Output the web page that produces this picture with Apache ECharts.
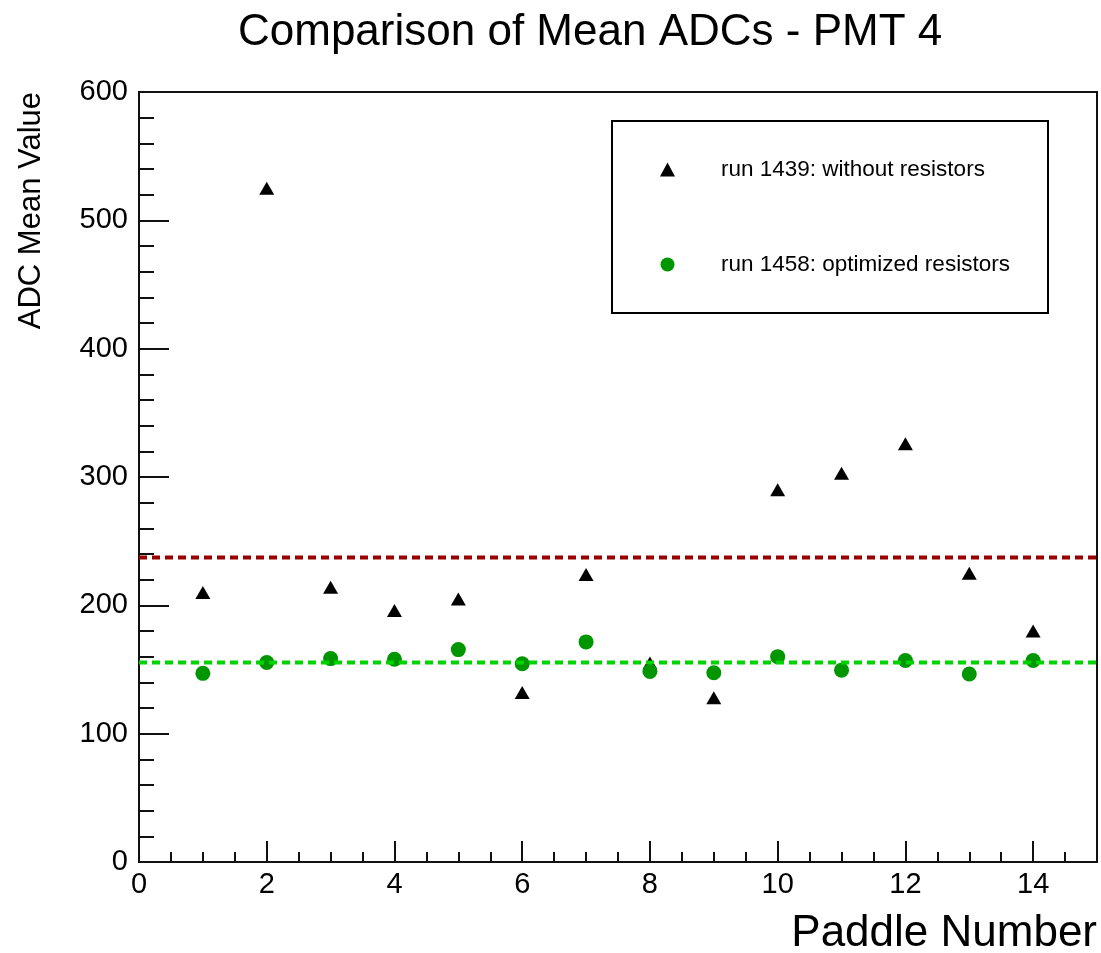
<!DOCTYPE html>
<html>
<head>
<meta charset="utf-8">
<script src="https://cdn.jsdelivr.net/npm/echarts@6/dist/echarts.min.js"></script>
<style>
  html, body { margin: 0; padding: 0; background: #fff; }
  #main { width: 1101px; height: 953px; }
</style>
</head>
<body>
<div id="main"></div>
<script>
// paddle numbers and mean ADC values
const paddles = [1, 2, 3, 4, 5, 6, 7, 8, 9, 10, 11, 12, 13, 14]
const withoutResistors = [210, 525, 214, 196, 205, 132, 224, 155, 128, 290, 303, 326, 225, 180]
const optimizedResistors = [147, 155.5, 158.5, 158, 165.5, 154.5, 171.5, 148.5, 147.5, 160, 149.5, 157, 146.5, 157]
// average levels (dotted lines)
const meanLevels = [237.3, 155.5]
const xRange = [0, 15]
const yRange = [0, 600]
const seriesNames = ['run 1439: without resistors', 'run 1458: optimized resistors']

const font = 'Liberation Sans, Arial, Helvetica, sans-serif'
const axisColor = '#111'

const chart = echarts.init(document.getElementById('main'))

const toPoints = (vals) => paddles.map((p, i) => [p, vals[i]])
const levelLine = (v) => xRange.map(x => [x, v])

chart.setOption({
    animation: false,
    backgroundColor: '#fff',
    textStyle: { fontFamily: font },
    title: {
        text: 'Comparison of Mean ADCs - PMT 4',
        left: 233,
        top: 6,
        textStyle: { fontSize: 44, fontWeight: 'normal', color: '#000', fontFamily: font }
    },
    grid: {
        left: 139,
        right: 4,
        top: 92,
        bottom: 91,
        outerBoundsMode: 'none',
        show: true,
        borderColor: axisColor,
        borderWidth: 2,
        backgroundColor: 'transparent'
    },
    legend: {
        orient: 'vertical',
        left: 660,
        top: 158,
        padding: 0,
        itemWidth: 15,
        itemHeight: 14,
        itemGap: 72,
        selectedMode: false,
        textStyle: { fontSize: 22.5, color: '#000', padding: [0, 0, 0, 41], fontFamily: font },
        data: [
            { name: seriesNames[0], icon: 'triangle' },
            { name: seriesNames[1], icon: 'circle' }
        ]
    },
    graphic: [{
        type: 'rect',
        shape: { x: 612, y: 121, width: 436, height: 192 },
        style: { fill: 'none', stroke: '#000', lineWidth: 2 },
        z: 10
    }],
    xAxis: [{
        type: 'value',
        min: xRange[0],
        max: xRange[1],
        interval: 2,
        name: 'Paddle Number',
        nameLocation: 'end',
        nameGap: 0,
        nameTextStyle: {
            fontSize: 44, color: '#000', align: 'right', verticalAlign: 'top',
            padding: [50, 0, 0, 0], fontFamily: font
        },
        axisLine: { lineStyle: { color: axisColor, width: 2 } },
        axisTick: { inside: true, length: 21, lineStyle: { color: axisColor, width: 2 } },
        axisLabel: { fontSize: 29, color: '#000', margin: 8, showMaxLabel: false, fontFamily: font },
        splitLine: { show: false }
    }, {
        type: 'value',
        min: xRange[0],
        max: xRange[1],
        interval: 0.5,
        position: 'bottom',
        axisLine: { show: false },
        axisTick: { inside: true, length: 10, lineStyle: { color: axisColor, width: 2 } },
        axisLabel: { show: false },
        splitLine: { show: false }
    }],
    yAxis: {
        type: 'value',
        min: yRange[0],
        max: yRange[1],
        interval: 100,
        name: 'ADC Mean Value',
        nameLocation: 'end',
        nameRotate: 90,
        nameGap: 0,
        nameTextStyle: {
            fontSize: 31, color: '#000', align: 'right', verticalAlign: 'bottom',
            padding: [0, 0, 92, 0], fontFamily: font
        },
        axisLine: { lineStyle: { color: axisColor, width: 2 } },
        axisTick: { inside: true, length: 30, lineStyle: { color: axisColor, width: 2 } },
        minorTick: { show: true, splitNumber: 5, length: 15, lineStyle: { color: axisColor, width: 2 } },
        axisLabel: { fontSize: 29, color: '#000', margin: 11, fontFamily: font },
        splitLine: { show: false },
        minorSplitLine: { show: false }
    },
    series: [{
        name: seriesNames[0],
        type: 'scatter',
        symbol: 'triangle',
        symbolSize: [15, 13],
        itemStyle: { color: '#000', opacity: 1 },
        z: 2,
        data: toPoints(withoutResistors)
    }, {
        name: seriesNames[1],
        type: 'scatter',
        symbol: 'circle',
        symbolSize: 15,
        itemStyle: { color: '#009600', opacity: 1 },
        z: 3,
        data: toPoints(optimizedResistors)
    }, {
        name: 'mean without',
        type: 'line',
        symbol: 'none',
        silent: true,
        z: 4,
        lineStyle: { color: '#990000', width: 4, type: [8, 5] },
        data: levelLine(meanLevels[0])
    }, {
        name: 'mean optimized',
        type: 'line',
        symbol: 'none',
        silent: true,
        z: 4,
        lineStyle: { color: '#00d400', width: 4, type: [8, 5] },
        data: levelLine(meanLevels[1])
    }]
})
</script>
</body>
</html>
